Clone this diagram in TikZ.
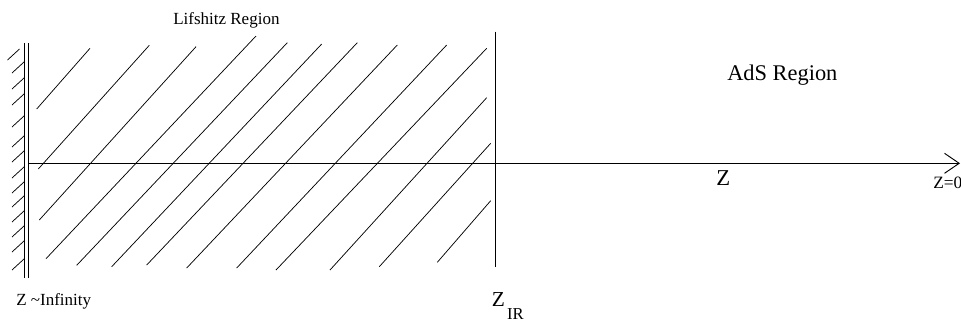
\documentclass[tikz,border=0pt]{standalone}
\usepackage{fontspec}
\setmainfont{Liberation Serif}
\usetikzlibrary{arrows.meta}

\begin{document}
\begin{tikzpicture}[x=0.75pt, y=-0.75pt,
    hatch/.style={line width=0.55pt},
    wallline/.style={line width=0.7pt},
    lbl/.style={inner sep=0pt, anchor=base west}]
  \useasboundingbox (0,0) rectangle (961,322);
  % walls and the z axis
  \coordinate (outerTop) at (24,43.3);
  \coordinate (outerBot) at (24,278.3);
  \coordinate (innerTop) at (28.3,43.3);
  \coordinate (innerBot) at (28.3,278.3);
  \coordinate (irTop) at (495,31.7);
  \coordinate (irBot) at (495,266.7);
  \coordinate (axStart) at (28.3,163.3);
  \coordinate (axEnd) at (960,163.3);
  \draw[wallline] (outerTop) -- (outerBot);
  \draw[wallline] (innerTop) -- (innerBot);
  \draw[wallline] (irTop) -- (irBot);
  \draw[wallline, -{Straight Barb[length=11pt,width=15pt]}] (axStart) -- (axEnd);
  % ticks on the wall
  \foreach \x/\y in {7.5/60, 12/73, 12/89, 12/105, 12/127, 12/147, 12/162,
                     12/178, 12/193, 12/207, 12/222, 12/237, 12/252, 12/270}
    \draw[hatch] (\x,\y) -- ++(12,-11);
  % hatching: Lifshitz region
  \foreach \xa/\ya/\xb/\yb in {36.7/109/90/48.3, 38.3/169/149.3/45.3,
      39.3/220/196/46.7, 46/258.7/256/36, 76.7/265.3/287.3/42.7,
      111.7/266.7/321.7/44, 146.7/265/357.3/42.7, 186.7/268/397.3/45,
      236.7/268/446.7/45, 276/270/486.7/48.3, 330/270/486.7/97.7,
      379.3/266.7/490.7/143.3, 437.3/262.3/490.7/200.7}
    \draw[hatch] (\xa,\ya) -- (\xb,\yb);
  % labels
  \node[lbl, font=\fontsize{12.75}{15}\selectfont] (lifshitz) at (173,24) {Lifshitz Region};
  \node[lbl, font=\fontsize{16.8}{20}\selectfont] (ads) at (727,80) {AdS Region};
  \node[lbl, font=\fontsize{17}{20}\selectfont] (zaxis) at (716,185) {Z};
  \node[lbl, font=\fontsize{13}{15}\selectfont] (zzero) at (933,188.3) {Z=0};
  \node[lbl, font=\fontsize{12.75}{15}\selectfont] (zinf) at (16,305) {Z \textasciitilde Infinity};
  \node[lbl, font=\fontsize{16}{19}\selectfont] (zir) at (491.7,306)
    {Z\hspace{1.5pt}\raisebox{-10pt}{\fontsize{12.5}{14}\selectfont IR}};
\end{tikzpicture}
\end{document}
